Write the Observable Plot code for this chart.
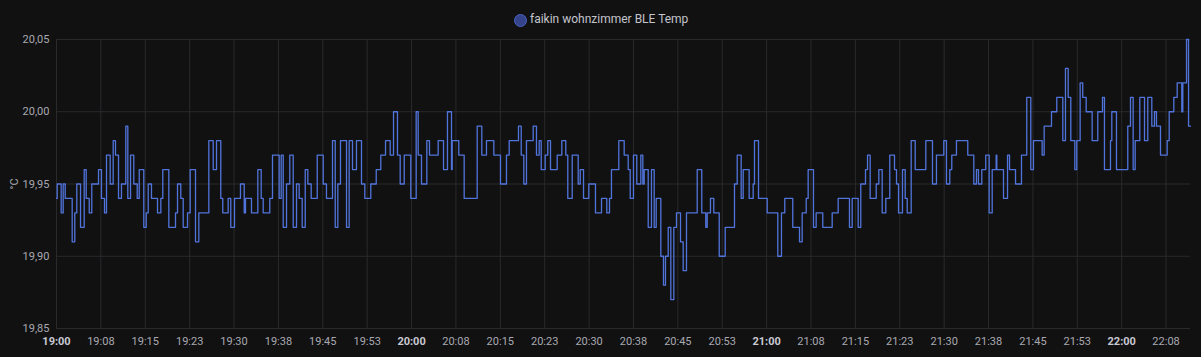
<!DOCTYPE html>
<html><head><meta charset="utf-8">
<script src="https://cdn.jsdelivr.net/npm/d3@7"></script>
<script src="https://cdn.jsdelivr.net/npm/@observablehq/plot@0.6"></script>
<style>
html,body{margin:0;padding:0;background:#111111;}
body{width:1201px;height:357px;overflow:hidden;font-family:Roboto,"Noto Sans",sans-serif;}
#legend{position:relative;height:26px;}
#legend .sw{position:absolute;left:514px;top:14px;width:11px;height:11px;border-radius:50%;background:#34438a;border:1px solid #4a63c4;}
#legend .lb{position:absolute;left:530px;top:12px;line-height:15px;font-size:12px;color:#c4c4cc;}
</style></head><body>
<div id="legend"><span class="sw"></span><span class="lb">faikin wohnzimmer BLE Temp</span></div>
<div id="chart"></div>
<script>
// minutes after 19:00 at which a new reading starts (step-after)
const minutes = [0,0.12,0.79,1.13,1.47,2.65,3.09,3.43,4.06,4.68,5.02,5.53,5.96,7.10,7.60,8.11,8.45,9.07,9.58,9.97,10.48,10.98,11.71,12.05,12.51,13.06,13.64,13.98,14.75,15.16,15.50,
16.05,17.07,17.63,17.96,18.98,20.11,20.45,21.00,21.41,22.14,22.59,23.49,24.05,25.74,26.48,27.04,27.76,28.10,29.01,29.45,30.08,31.09,31.72,31.94,32.95,
34.02,34.59,34.93,36.04,36.50,37.63,37.97,38.31,38.87,39.42,40.00,40.56,41.01,41.52,42.03,42.47,43.04,44.06,45.07,45.62,46.64,47.10,47.54,47.99,49.01,49.46,50.02,50.69,
51.54,52.10,53.11,54.03,54.80,55.60,56.39,56.95,57.62,58.08,58.76,59.87,60.78,61.12,61.68,62.58,63.03,64.50,65.40,66.07,66.75,66.87,67.98,68.89,
71.09,71.87,72.66,73.90,75.03,76.04,76.50,78.07,78.53,78.97,79.42,80.55,81.11,81.57,81.91,82.58,83.02,83.48,84.61,85.39,86.06,86.40,
87.15,88.16,88.50,89.06,89.95,91.08,92.10,92.99,93.45,93.78,95.02,95.93,96.61,96.95,97.50,98.06,98.74,99.08,99.31,99.99,100.54,101.00,101.34,102.12,102.57,102.91,103.37,103.81,
104.32,104.77,105.45,105.90,106.46,108.27,109.04,109.72,109.96,110.51,111.07,111.99,113.00,114.57,115.03,115.70,116.04,117.05,117.73,117.95,118.63,120.10,121.89,
122.51,123.07,124.42,125.56,126.01,126.69,127.02,127.92,128.37,129.49,131.08,132.09,134.00,134.46,135.47,135.91,136.71,137.05,137.50,138.52,138.96,139.53,
140.14,140.81,141.61,141.95,142.29,142.96,143.42,143.76,144.43,145.11,146.90,148.03,148.70,149.94,150.39,150.95,151.29,152.08,153.99,155.01,155.46,155.80,156.36,157.03,157.61,
158.12,158.79,158.90,160.03,160.71,161.05,162.06,163.07,163.96,164.64,165.09,166.56,166.90,168.14,169.03,170.05,170.50,170.96,171.40,172.08,172.41,172.98,173.42,174.00,175.01,
175.96,176.76,177.09,178.11,178.33,179.12,181.03,181.49,181.94,182.28,183.06,183.86,184.41,185.09,185.54,185.88,186.56,187.69,188.03,188.81,189.38,190.16,190.33,190.96,191.30,191.63];
const temps = [19.94,19.95,19.93,19.95,19.94,19.91,19.93,19.95,19.92,19.96,19.94,19.93,19.95,19.96,19.94,19.93,19.97,19.95,19.98,19.97,19.94,19.95,19.99,19.94,19.97,19.95,19.94,19.96,19.92,19.93,19.95,
19.94,19.93,19.94,19.96,19.92,19.93,19.95,19.94,19.92,19.93,19.96,19.91,19.93,19.98,19.96,19.98,19.94,19.93,19.94,19.92,19.94,19.95,19.93,19.94,19.93,
19.96,19.94,19.93,19.94,19.97,19.94,19.97,19.92,19.95,19.97,19.92,19.95,19.94,19.92,19.96,19.95,19.94,19.97,19.95,19.94,19.98,19.92,19.95,19.98,19.92,19.98,19.96,19.98,
19.95,19.94,19.95,19.96,19.97,19.98,19.97,20.00,19.97,19.95,19.97,19.94,20.00,19.97,19.95,19.98,19.97,19.98,19.96,20.00,19.96,19.98,19.97,19.94,
19.99,19.97,19.98,19.97,19.95,19.97,19.98,19.99,19.97,19.95,19.98,19.99,19.97,19.98,19.96,19.97,19.98,19.96,19.97,19.98,19.97,19.94,
19.97,19.95,19.96,19.94,19.95,19.93,19.94,19.93,19.94,19.96,19.98,19.97,19.96,19.94,19.97,19.95,19.97,19.95,19.96,19.92,19.96,19.92,19.94,19.90,19.88,19.90,19.92,19.87,
19.92,19.93,19.91,19.89,19.93,19.96,19.93,19.92,19.93,19.94,19.93,19.90,19.92,19.95,19.97,19.94,19.96,19.94,19.95,19.98,19.94,19.93,19.90,
19.93,19.94,19.92,19.91,19.93,19.94,19.96,19.92,19.93,19.92,19.93,19.94,19.92,19.94,19.92,19.95,19.96,19.97,19.94,19.95,19.96,19.93,
19.94,19.97,19.96,19.95,19.93,19.96,19.94,19.93,19.98,19.96,19.98,19.95,19.97,19.98,19.95,19.96,19.97,19.98,19.97,19.95,19.96,19.95,19.96,19.97,19.93,
19.96,19.97,19.96,19.94,19.97,19.96,19.95,19.97,20.01,19.96,19.98,19.97,19.99,20.00,20.01,19.98,20.03,20.01,19.98,19.96,19.98,20.02,20.01,20.00,19.98,
20.00,20.01,19.96,19.98,20.00,19.96,19.99,20.01,19.96,19.98,20.01,19.98,20.01,19.99,20.00,19.99,19.97,19.98,20.00,20.01,20.02,20.00,20.02,20.05,19.99,19.99];

const xTickLabels = ["19:00","19:08","19:15","19:23","19:30","19:38","19:45","19:53","20:00","20:08","20:15","20:23","20:30","20:38","20:45","20:53","21:00","21:08","21:15","21:23","21:30","21:38","21:45","21:53","22:00","22:08"];
const yTickValues = [19.85, 19.90, 19.95, 20.00, 20.05];
const yTickLabels = ["19,85","19,90","19,95","20,00","20,05"];
const seriesName = "faikin wohnzimmer BLE Temp";
const unitLabel = "°C";

const t0 = Date.UTC(2024, 0, 1, 19, 0, 0);
const MIN = 60000;
const data = minutes.map((m, i) => ({time: new Date(t0 + m * MIN), temp: temps[i]}));
const tickTimes = xTickLabels.map((_, i) => new Date(t0 + i * 7.5 * MIN));
const labelOf = new Map(tickTimes.map((t, i) => [+t, xTickLabels[i]]));
const hourTicks = tickTimes.filter((t, i) => xTickLabels[i].endsWith(":00"));
const minorTicks = tickTimes.filter((t, i) => !xTickLabels[i].endsWith(":00"));
const yLabelOf = new Map(yTickValues.map((v, i) => [v.toFixed(2), yTickLabels[i]]));

const chart = Plot.plot({
  width: 1201,
  height: 331,
  marginTop: 13,
  marginBottom: 29,
  marginLeft: 56,
  marginRight: 11,
  style: {background: "#111111", color: "#a9a9b2", fontFamily: "Roboto, 'Noto Sans', sans-serif", fontSize: "11px"},
  x: {type: "utc", domain: [new Date(t0), new Date(t0 + minutes[minutes.length - 1] * MIN)]},
  y: {domain: [19.85, 20.05]},
  marks: [
    Plot.gridX(tickTimes, {stroke: "#2a2a2d", strokeOpacity: 1}),
    Plot.gridY(yTickValues, {stroke: "#2a2a2d", strokeOpacity: 1}),
    Plot.axisY(yTickValues, {tickSize: 0, tickPadding: 7, tickFormat: d => yLabelOf.get(d.toFixed(2)), label: unitLabel, labelAnchor: "center", labelOffset: 46, labelArrow: "none"}),
    Plot.axisX(minorTicks, {tickSize: 0, tickPadding: 9, tickFormat: d => labelOf.get(+d), label: null}),
    Plot.axisX(hourTicks, {tickSize: 0, tickPadding: 9, tickFormat: d => labelOf.get(+d), label: null, fontWeight: "bold", fill: "#c9c9d2"}),
    Plot.line(data, {x: "time", y: "temp", curve: "step-after", stroke: "#5174dc", strokeWidth: 1.3})
  ]
});
document.getElementById("chart").appendChild(chart);
</script>
</body></html>
